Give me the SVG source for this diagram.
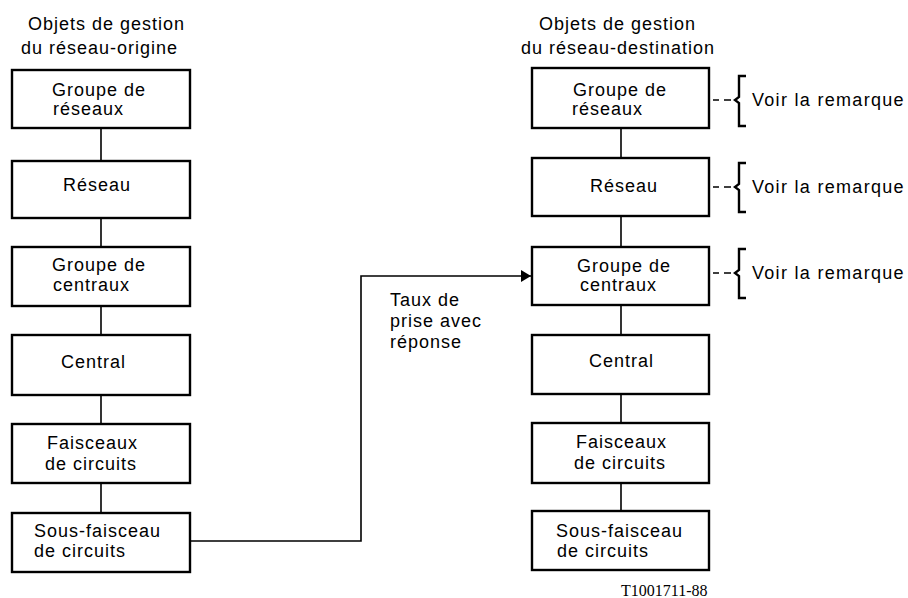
<svg xmlns="http://www.w3.org/2000/svg" width="908" height="598" viewBox="0 0 908 598">
<style>
  .box { fill: #fff; stroke: #000; stroke-width: 2.4; }
  .t { font-family: "Liberation Sans", Arial, sans-serif; font-size: 18px; letter-spacing: 1px; fill: #000; }
  .v { letter-spacing: 1.3px; }
  .c { fill: none; stroke: #000; stroke-width: 1.6; }
  .br { fill: none; stroke: #000; stroke-width: 2.4; }
  .id { font-family: "Liberation Serif", "Times New Roman", serif; font-size: 16px; fill: #000; }
</style>
<defs>
  <marker id="arr" markerWidth="12" markerHeight="12" refX="10" refY="6" orient="auto" markerUnits="userSpaceOnUse">
    <path d="M0,0 L10,6 L0,12 Z" fill="#000"/>
  </marker>
</defs>
<rect width="908" height="598" fill="#fff"/>

<g id="headers">
  <text class="t" x="28" y="30">Objets de gestion</text>
  <text class="t" x="21" y="54">du réseau-origine</text>
  <text class="t" x="539" y="30">Objets de gestion</text>
  <text class="t" x="521" y="54">du réseau-destination</text>
</g>

<g id="connectors">
  <line class="c" x1="101" y1="128" x2="101" y2="161"/>
  <line class="c" x1="101" y1="218" x2="101" y2="247"/>
  <line class="c" x1="101" y1="306" x2="101" y2="335"/>
  <line class="c" x1="101" y1="395" x2="101" y2="424"/>
  <line class="c" x1="101" y1="483" x2="101" y2="513"/>
  <line class="c" x1="621" y1="128" x2="621" y2="158"/>
  <line class="c" x1="621" y1="216" x2="621" y2="247"/>
  <line class="c" x1="621" y1="305" x2="621" y2="335"/>
  <line class="c" x1="621" y1="394" x2="621" y2="423"/>
  <line class="c" x1="621" y1="483" x2="621" y2="511"/>
  <path class="c" d="M190,541 H361 V276 H531" marker-end="url(#arr)"/>
  <text class="t" x="390" y="306">Taux de</text>
  <text class="t" x="390" y="327">prise avec</text>
  <text class="t" x="390" y="348">réponse</text>
</g>

<g id="o-groupe-reseaux">
  <rect class="box" x="12" y="70" width="178" height="58"/>
  <text class="t" x="52" y="96">Groupe de</text>
  <text class="t" x="53" y="115">réseaux</text>
</g>
<g id="o-reseau">
  <rect class="box" x="12" y="161" width="178" height="57"/>
  <text class="t" x="63" y="191">Réseau</text>
</g>
<g id="o-groupe-centraux">
  <rect class="box" x="12" y="247" width="178" height="59"/>
  <text class="t" x="52" y="271">Groupe de</text>
  <text class="t" x="53" y="291">centraux</text>
</g>
<g id="o-central">
  <rect class="box" x="12" y="335" width="178" height="60"/>
  <text class="t" x="61" y="368">Central</text>
</g>
<g id="o-faisceaux">
  <rect class="box" x="12" y="424" width="178" height="59"/>
  <text class="t" x="47" y="449">Faisceaux</text>
  <text class="t" x="45" y="470">de circuits</text>
</g>
<g id="o-sous-faisceau">
  <rect class="box" x="12" y="513" width="178" height="59"/>
  <text class="t" x="34" y="537">Sous-faisceau</text>
  <text class="t" x="34" y="557">de circuits</text>
</g>

<g id="d-groupe-reseaux">
  <rect class="box" x="532" y="68" width="177" height="60"/>
  <text class="t" x="573" y="96">Groupe de</text>
  <text class="t" x="572" y="115">réseaux</text>
</g>
<g id="d-reseau">
  <rect class="box" x="532" y="158" width="177" height="58"/>
  <text class="t" x="590" y="192">Réseau</text>
</g>
<g id="d-groupe-centraux">
  <rect class="box" x="532" y="247" width="177" height="58"/>
  <text class="t" x="577" y="272">Groupe de</text>
  <text class="t" x="580" y="291">centraux</text>
</g>
<g id="d-central">
  <rect class="box" x="532" y="335" width="177" height="59"/>
  <text class="t" x="589" y="367">Central</text>
</g>
<g id="d-faisceaux">
  <rect class="box" x="532" y="423" width="177" height="60"/>
  <text class="t" x="576" y="448">Faisceaux</text>
  <text class="t" x="574" y="469">de circuits</text>
</g>
<g id="d-sous-faisceau">
  <rect class="box" x="532" y="511" width="177" height="59"/>
  <text class="t" x="556" y="537">Sous-faisceau</text>
  <text class="t" x="557" y="557">de circuits</text>
</g>

<g id="remarque-1">
  <path class="c" d="M713,100 H719 M724,100 H731"/>
  <path class="br" d="M746,76 H739 V97 L735,100 L739,103 V126 H746"/>
  <text class="t v" x="752" y="106">Voir la remarque</text>
</g>
<g id="remarque-2">
  <path class="c" d="M713,187 H719 M724,187 H731"/>
  <path class="br" d="M746,163 H739 V184 L735,187 L739,190 V212 H746"/>
  <text class="t v" x="752" y="193">Voir la remarque</text>
</g>
<g id="remarque-3">
  <path class="c" d="M713,273 H719 M724,273 H731"/>
  <path class="br" d="M746,249 H739 V270 L735,273 L739,276 V298 H746"/>
  <text class="t v" x="752" y="279">Voir la remarque</text>
</g>

<text class="id" x="621" y="596">T1001711-88</text>
</svg>
